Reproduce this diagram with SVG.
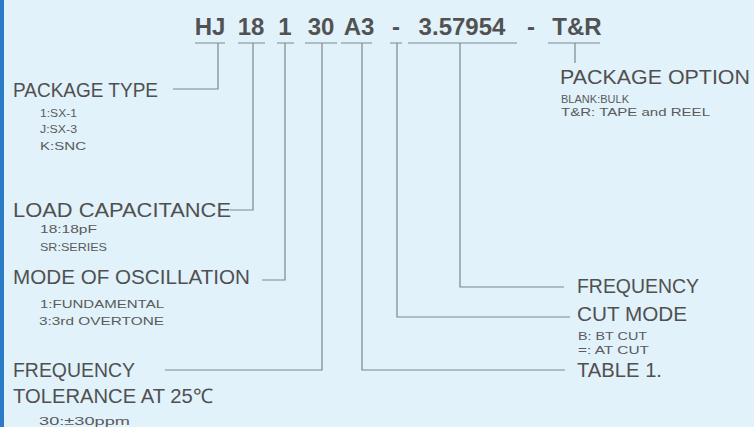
<svg xmlns="http://www.w3.org/2000/svg" width="754" height="427" viewBox="0 0 754 427">
<style>
.t{font-family:"Liberation Sans",Arial,sans-serif;font-size:24px;font-weight:bold;fill:#525252;text-anchor:middle}
.l{font-family:"Liberation Sans",Arial,sans-serif;font-size:20px;fill:#505050}
.s{font-family:"Liberation Sans",Arial,sans-serif;font-size:10.5px;fill:#5a5a5a}
.c{fill:none;stroke:#7d878d;stroke-width:1.2}
</style>
<rect width="754" height="427" fill="#e1f2fb"/>
<rect width="4" height="427" fill="#2b7cc6"/>
<g id="code">
<text class="t" x="210" y="35">HJ</text>
<text class="t" x="251" y="35">18</text>
<text class="t" x="285" y="35">1</text>
<text class="t" x="321" y="35">30</text>
<text class="t" x="359" y="35">A3</text>
<text class="t" x="396" y="35">-</text>
<text class="t" x="462" y="35">3.57954</text>
<text class="t" x="531" y="35">-</text>
<text class="t" x="577" y="35">T&amp;R</text>
</g>
<g id="connectors" class="c">
<path d="M195 43H225M218 43V89H173"/>
<path d="M238 43H265M253 43V210H230"/>
<path d="M277 43H294M285 43V280H262"/>
<path d="M305 43H337M322 43V370H165"/>
<path d="M341 43H372M362 43V370H565"/>
<path d="M390 43H402M397 43V317H570"/>
<path d="M408 43H517M460 43V287H564"/>
<path d="M548 43H600M575 43V63"/>
</g>
<g id="package-type">
<text class="l" x="13" y="97" textLength="145" lengthAdjust="spacingAndGlyphs">PACKAGE TYPE</text>
<text class="s" x="40" y="117" textLength="37" lengthAdjust="spacingAndGlyphs">1:SX-1</text>
<text class="s" x="40" y="133" textLength="37" lengthAdjust="spacingAndGlyphs">J:SX-3</text>
<text class="s" x="40" y="150" textLength="46" lengthAdjust="spacingAndGlyphs">K:SNC</text>
</g>
<g id="load-capacitance">
<text class="l" x="13" y="217" textLength="218" lengthAdjust="spacingAndGlyphs">LOAD CAPACITANCE</text>
<text class="s" x="40" y="233" textLength="57" lengthAdjust="spacingAndGlyphs">18:18pF</text>
<text class="s" x="40" y="251" textLength="67" lengthAdjust="spacingAndGlyphs">SR:SERIES</text>
</g>
<g id="mode-of-oscillation">
<text class="l" x="13" y="284" textLength="237" lengthAdjust="spacingAndGlyphs">MODE OF OSCILLATION</text>
<text class="s" x="40" y="308" textLength="124" lengthAdjust="spacingAndGlyphs">1:FUNDAMENTAL</text>
<text class="s" x="39" y="325" textLength="125" lengthAdjust="spacingAndGlyphs">3:3rd OVERTONE</text>
</g>
<g id="frequency-tolerance">
<text class="l" x="13" y="377" textLength="122" lengthAdjust="spacingAndGlyphs">FREQUENCY</text>
<text class="l" x="13" y="403" textLength="200" lengthAdjust="spacingAndGlyphs">TOLERANCE AT 25℃</text>
<text class="s" x="39" y="425" textLength="91" lengthAdjust="spacingAndGlyphs">30:±30ppm</text>
</g>
<g id="package-option">
<text class="l" x="560" y="84" textLength="190" lengthAdjust="spacingAndGlyphs">PACKAGE OPTION</text>
<text class="s" x="561" y="103" textLength="68" lengthAdjust="spacingAndGlyphs">BLANK:BULK</text>
<text class="s" x="561" y="116" textLength="149" lengthAdjust="spacingAndGlyphs">T&amp;R: TAPE and REEL</text>
</g>
<g id="frequency">
<text class="l" x="577" y="293" textLength="122" lengthAdjust="spacingAndGlyphs">FREQUENCY</text>
</g>
<g id="cut-mode">
<text class="l" x="577" y="321" textLength="110" lengthAdjust="spacingAndGlyphs">CUT MODE</text>
<text class="s" x="578" y="340" textLength="69" lengthAdjust="spacingAndGlyphs">B: BT CUT</text>
<text class="s" x="578" y="354" textLength="71" lengthAdjust="spacingAndGlyphs">=: AT CUT</text>
</g>
<g id="table">
<text class="l" x="577" y="377" textLength="85" lengthAdjust="spacingAndGlyphs">TABLE 1.</text>
</g>
</svg>
